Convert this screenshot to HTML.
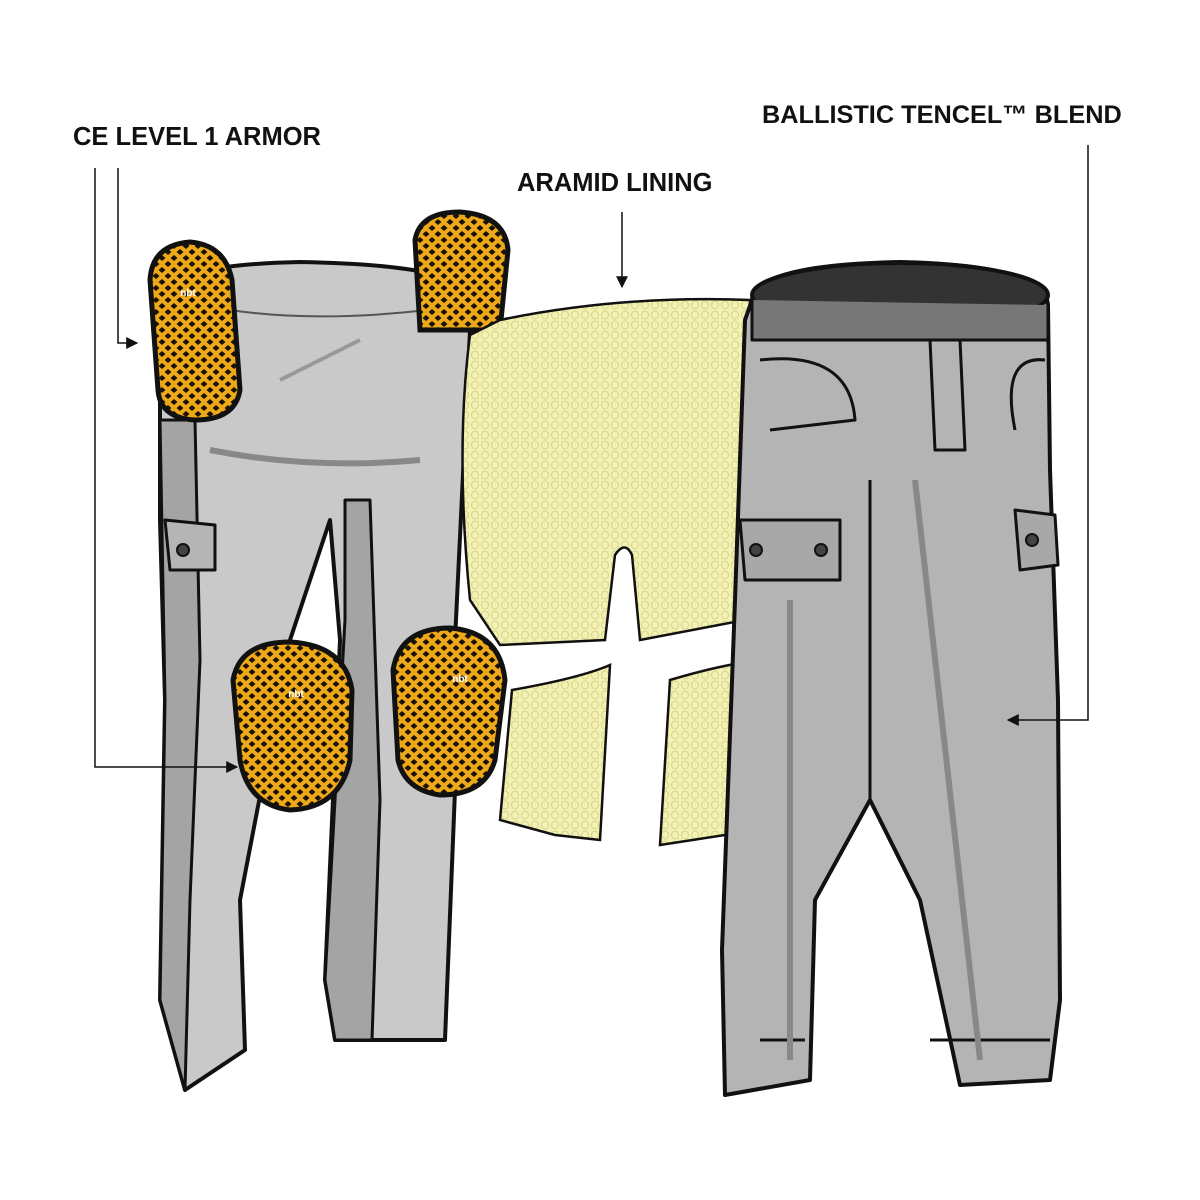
<!DOCTYPE html>
<html><head><meta charset="utf-8"><style>
html,body{margin:0;padding:0;background:#fff}
svg{display:block}
text{font-family:"Liberation Sans",sans-serif;font-weight:bold;fill:#111}
</style></head><body>
<svg width="1200" height="1200" viewBox="0 0 1200 1200" xmlns="http://www.w3.org/2000/svg">
<defs>
<pattern id="hex" width="12" height="12" patternUnits="userSpaceOnUse">
<rect width="12" height="12" fill="#eea918"/>
<path d="M2.5 6 L6 3 L9.5 6 L6 9Z" fill="#1a1208"/>
<path d="M-3.5 0 L0 -3 L3.5 0 L0 3Z M8.5 0 L12 -3 L15.5 0 L12 3Z M-3.5 12 L0 9 L3.5 12 L0 15Z M8.5 12 L12 9 L15.5 12 L12 15Z" fill="#1a1208"/>
</pattern>
<pattern id="mesh" width="10" height="10" patternUnits="userSpaceOnUse">
<rect width="10" height="10" fill="#f3f1b4"/>
<ellipse cx="5" cy="5" rx="3.5" ry="4" fill="none" stroke="#d6d488" stroke-width="1"/>
</pattern>
<marker id="ar" viewBox="0 0 10 10" refX="9" refY="5" markerWidth="8" markerHeight="8" orient="auto"><path d="M0 0L10 5L0 10z" fill="#111"/></marker>
</defs>

<text x="73" y="145" font-size="25.5">CE LEVEL 1 ARMOR</text>
<text x="517" y="191" font-size="25.5">ARAMID LINING</text>
<text x="762" y="123" font-size="25.3">BALLISTIC TENCEL™ BLEND</text>

<!-- LEFT PANTS -->
<g stroke="#111" stroke-width="4" stroke-linejoin="round">
<path d="M160 300 Q160 265 300 262 Q470 265 475 300 L470 330 L455 640 L455 790 L445 1040 L335 1040 L325 980 L340 640 L330 520 L290 640 L240 900 L245 1050 L185 1090 L160 1000 L165 700 L160 520 Z" fill="#c9c9c9"/>
<path d="M160 420 L195 420 L200 660 L190 900 L185 1090 L160 1000 L165 700 Z" fill="#a4a4a4" stroke-width="3"/>
<path d="M345 500 L370 500 L380 800 L372 1040 L335 1040 L325 980 L345 620 Z" fill="#a4a4a4" stroke-width="3"/>
<path d="M165 520 L215 525 L215 570 L170 570 Z" fill="#b5b5b5" stroke-width="3"/>
<circle cx="183" cy="550" r="6" fill="#444" stroke-width="2"/>
</g>
<path d="M230 310 Q330 325 465 305" stroke="#555" stroke-width="2" fill="none"/>
<path d="M210 450 Q310 470 420 460" stroke="#888" stroke-width="6" fill="none"/>
<path d="M280 380 Q320 360 360 340" stroke="#999" stroke-width="4" fill="none"/>

<g stroke="#111" stroke-width="5" fill="url(#hex)">
<path d="M150 280 Q152 245 190 242 Q225 245 232 280 L240 390 Q235 420 195 420 Q160 418 158 390 Z"/>
<path d="M415 240 Q420 212 460 212 Q505 215 508 250 L500 330 L420 330 Z"/>
<path d="M233 680 Q240 642 290 642 Q345 645 352 690 L350 760 Q340 808 290 810 Q248 805 240 760 Z"/>
<path d="M393 670 Q400 628 450 628 Q500 632 505 680 L495 760 Q485 795 440 795 Q405 790 398 760 Z"/>
</g>
<g font-size="10" text-anchor="middle"><text x="188" y="296" style="fill:#fff">nbt</text><text x="296" y="697" style="fill:#fff">nbt</text><text x="460" y="682" style="fill:#fff">nbt</text></g>

<!-- ARAMID LINING -->
<g stroke="#111" stroke-width="2.5" fill="url(#mesh)">
<path d="M470 335 L500 320 Q620 295 750 300 L745 620 L640 640 L632 555 Q625 540 615 555 L605 640 L500 645 L470 600 Q455 450 470 335 Z"/>
<path d="M512 690 Q580 678 610 665 L600 840 L555 835 L500 820 Z"/>
<path d="M670 680 Q720 665 760 660 L740 810 L725 835 L660 845 Z"/>
</g>

<!-- RIGHT PANTS -->
<g stroke="#111" stroke-width="4" stroke-linejoin="round">
<path d="M752 300 Q755 265 900 262 Q1045 265 1048 305 L1050 470 L1058 700 L1060 1000 L1050 1080 L960 1085 L920 900 L870 800 L815 900 L810 1080 L725 1095 L722 950 L735 600 L745 320 Z" fill="#b4b4b4"/>
<ellipse cx="900" cy="295" rx="148" ry="32" fill="#333"/>
<path d="M752 300 L752 340 L1048 340 L1048 305" fill="#777" stroke-width="3"/>
<path d="M740 520 L840 520 L840 580 L745 580 Z" fill="#a8a8a8" stroke-width="3"/>
<path d="M1015 510 L1055 515 L1058 565 L1020 570 Z" fill="#a8a8a8" stroke-width="3"/>
<circle cx="756" cy="550" r="6" fill="#444" stroke-width="2"/>
<circle cx="821" cy="550" r="6" fill="#444" stroke-width="2"/>
<circle cx="1032" cy="540" r="6" fill="#444" stroke-width="2"/>
<path d="M760 360 Q850 350 855 420 L770 430" fill="none" stroke-width="3"/>
<path d="M1045 360 Q1000 355 1015 430" fill="none" stroke-width="3"/>
<path d="M930 340 L935 450 L965 450 L960 340" fill="none" stroke-width="3"/>
<path d="M870 480 L870 800" fill="none" stroke-width="3"/>
<path d="M760 1040 L805 1040 M930 1040 L1050 1040" stroke-width="3"/>
</g>
<path d="M790 600 L790 1060" stroke="#888" stroke-width="6" fill="none"/>
<path d="M915 480 Q940 700 980 1060" stroke="#888" stroke-width="6" fill="none"/>

<g stroke="#111" stroke-width="1.5" fill="none">
<path d="M95 168 L95 767 L237 767" marker-end="url(#ar)"/>
<path d="M118 168 L118 343 L137 343" marker-end="url(#ar)"/>
<path d="M622 212 L622 287" marker-end="url(#ar)"/>
<path d="M1088 145 L1088 720 L1008 720" marker-end="url(#ar)"/>
</g>
</svg>
</body></html>
